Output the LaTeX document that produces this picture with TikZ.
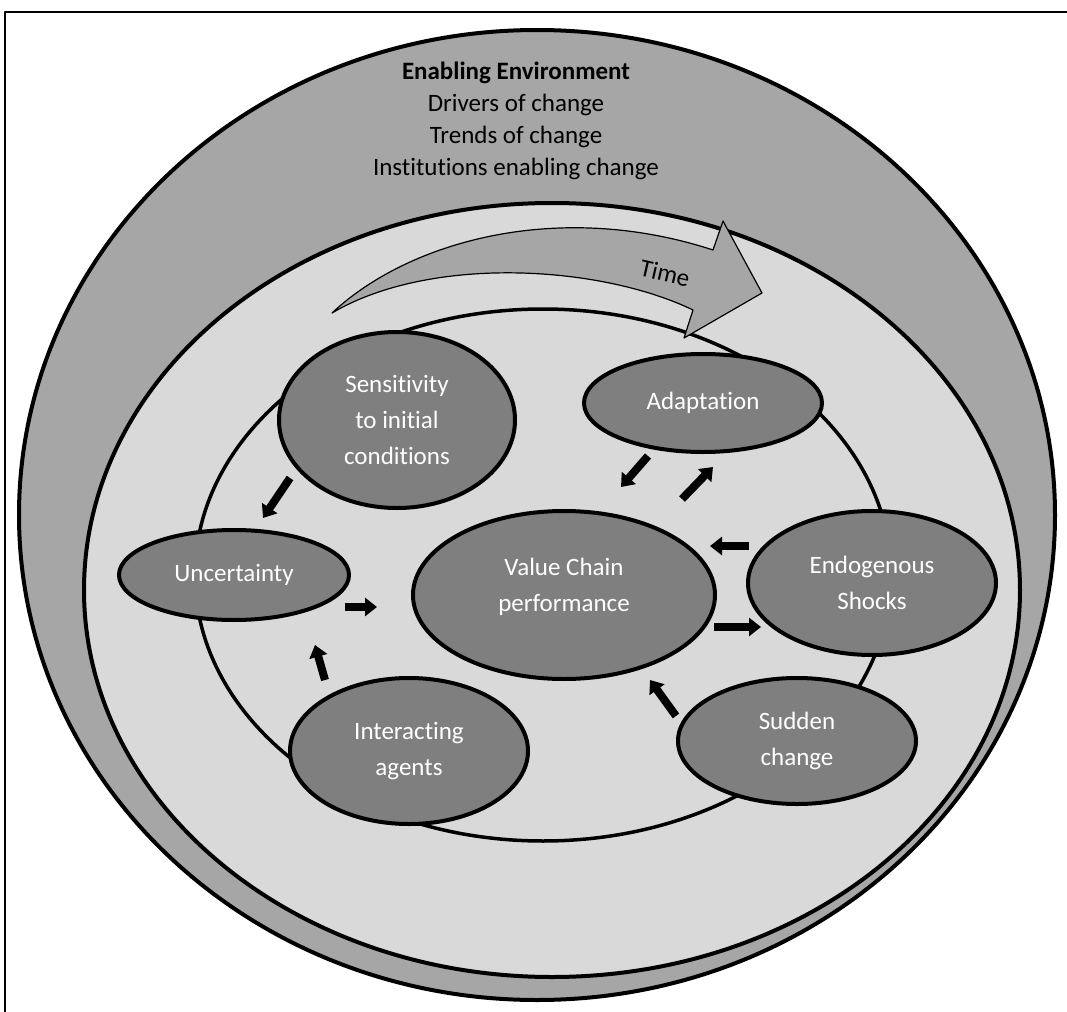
\documentclass[tikz,border=0pt]{standalone}
\usepackage{fontspec}
\setmainfont{Carlito}[Ligatures={NoCommon}]
\usetikzlibrary{arrows.meta,shapes.geometric,positioning}
\definecolor{bandgray}{HTML}{A6A6A6}
\definecolor{palegray}{HTML}{D9D9D9}
\definecolor{blobgray}{HTML}{7F7F7F}

\begin{document}
\begin{tikzpicture}[
    x = 0.5pt, y = -0.5pt, % one unit per pixel, y going down
    line join = round,
    ring/.style = {draw = black, line width = 2pt}, % outlines of the rings
    fatarrow/.style = {line width=4pt, -{Triangle[length=6pt,width=9pt]}} % short block arrows
    ]

    \tikzset{blob/.style={
    ellipse,
    draw = black,
    line width = 2pt,
    fill = blobgray,
    text = white,
    align = center,
    inner sep = 0pt,
    font = \fontsize{12.5}{18}\selectfont
    }}

    \useasboundingbox (0,0) rectangle (1067,1012);
    \draw[line width=0.75pt] (5,1012) -- (5,12) -- (1067,12);

    % rings
    \draw[ring, fill=bandgray] (537,515) ellipse [x radius=259pt, y radius=242.5pt];
    \draw[ring, fill=palegray] (552,590) ellipse [x radius=234pt, y radius=193.5pt];
    \draw[ring, line width=1.75pt] (543,575) ellipse [x radius=174pt, y radius=133pt];

    \node[align=center, font=\fontsize{12.5}{16}\selectfont] (env) at (516,121)
      {\textbf{Enabling Environment}\\Drivers of change\\Trends of change\\Institutions enabling change};

    % time arrow
    \draw[line width=0.6pt, fill=bandgray] (332,313) .. controls (410,240) and (560,200) .. (713,250)
      -- (723,221) -- (762,293) -- (684,338) -- (693,310)
      .. controls (600,265) and (430,255) .. (332,313) -- cycle;
    \node[rotate=-13, font=\fontsize{12.5}{15}\selectfont] (time) at (665,273) {Time};

    \node[blob, minimum width=118pt, minimum height=88pt] (sens) at (397,420) {Sensitivity\\to initial\\conditions};
    \node[blob, minimum width=119pt, minimum height=49pt] (adapt) at (703,403) {Adaptation};
    \node[blob, minimum width=115pt, minimum height=45pt] (unc) at (234,575) {Uncertainty};
    \node[blob, minimum width=151pt, minimum height=84pt] (vc) at (564,595) {Value Chain\\performance\\[-8pt]\mbox{}};
    \node[blob, minimum width=124pt, minimum height=72pt] (endo) at (872,583) {Endogenous\\Shocks};
    \node[blob, minimum width=119pt, minimum height=73pt] (inter) at (409,751) {Interacting\\agents};
    \node[blob, minimum width=119pt, minimum height=63pt] (sudden) at (797,741) {Sudden\\change};

    % arrow ends
    \coordinate (sensOut) at (290,478);   \coordinate (uncIn) at (263,518);
    \coordinate (uncOut) at (345,607);    \coordinate (vcInU) at (377,607);
    \coordinate (interOut) at (325,680);  \coordinate (uncInB) at (315,645);
    \coordinate (suddenOut) at (676,716); \coordinate (vcInS) at (650,680);
    \coordinate (vcOutE) at (714,627);    \coordinate (endoIn) at (761,627);
    \coordinate (endoOut) at (749,546);   \coordinate (vcInE) at (710,546);
    \coordinate (adaptOut) at (648,456);  \coordinate (vcInA) at (621,487);
    \coordinate (vcOutA) at (682,499);    \coordinate (adaptIn) at (713,467);

    \draw[fatarrow] (sensOut) -- (uncIn);
    \draw[fatarrow] (uncOut) -- (vcInU);
    \draw[fatarrow] (interOut) -- (uncInB);
    \draw[fatarrow] (suddenOut) -- (vcInS);
    \draw[fatarrow] (vcOutE) -- (endoIn);
    \draw[fatarrow] (endoOut) -- (vcInE);
    \draw[fatarrow] (adaptOut) -- (vcInA);
    \draw[fatarrow] (vcOutA) -- (adaptIn);
\end{tikzpicture}
\end{document}
